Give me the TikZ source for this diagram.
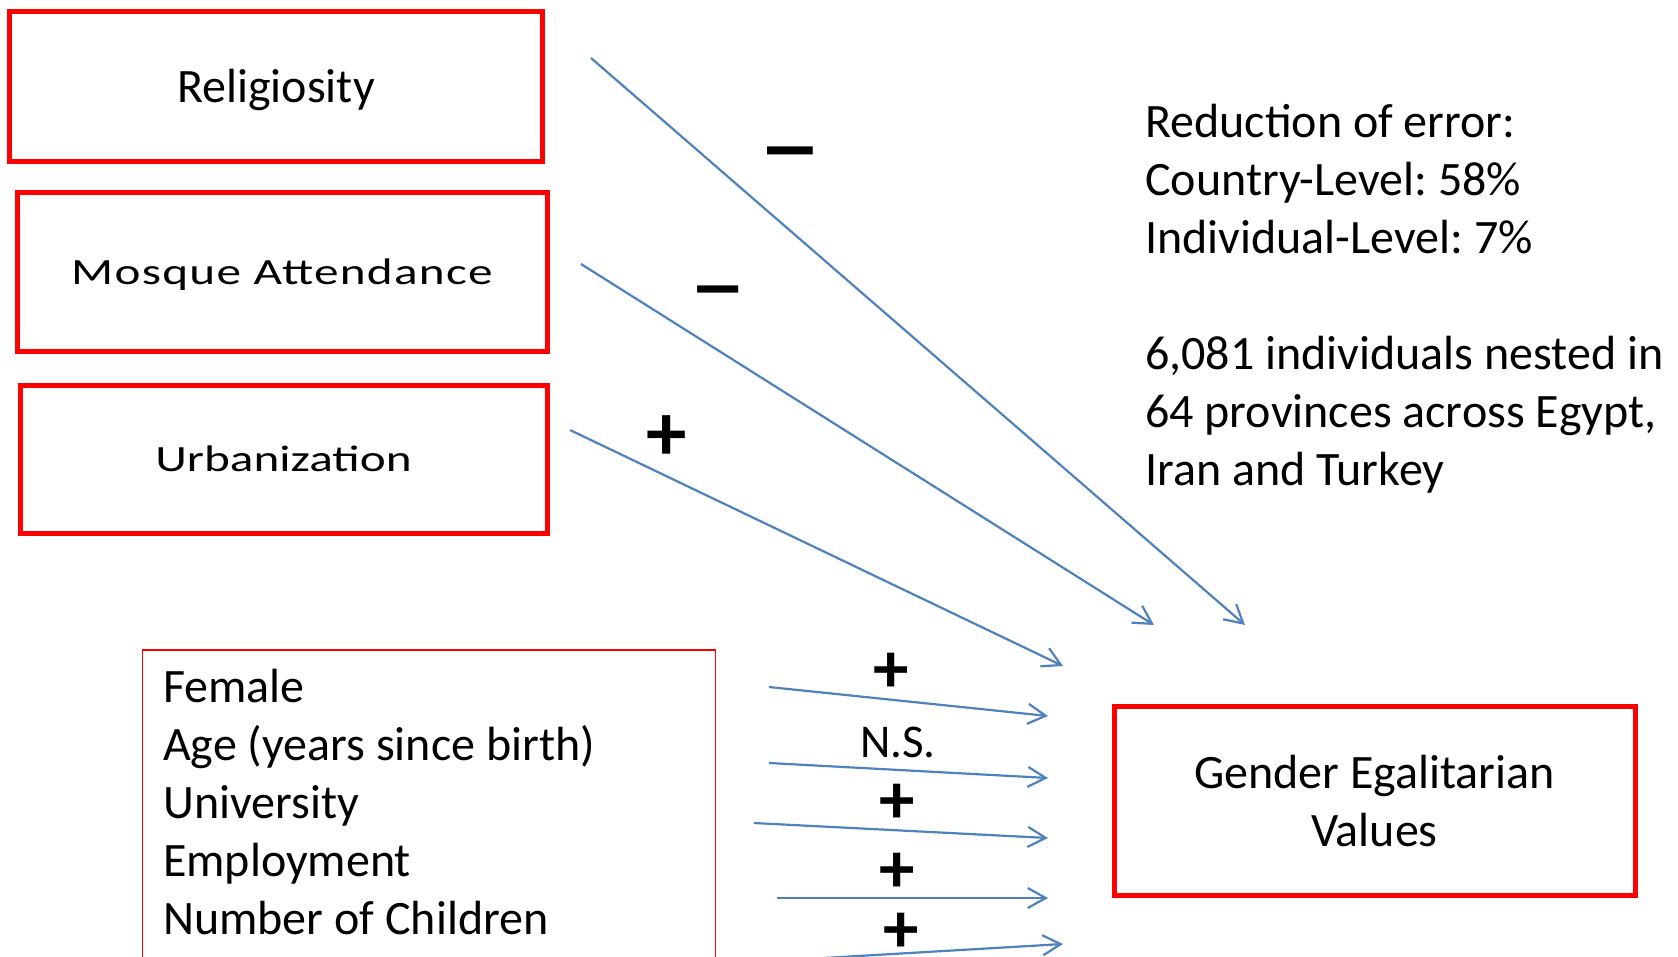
\documentclass[tikz,border=0pt]{standalone}
\usepackage{fontspec}
\setmainfont{Carlito}
\newfontfamily\widefont{Carlito}[FakeStretch=1.33]
\usetikzlibrary{arrows.meta,positioning}
\definecolor{boxRed}{RGB}{255,0,0}
\definecolor{pathBlue}{RGB}{79,129,189}
\frenchspacing

\begin{document}
\begin{tikzpicture}[x=1pt, y=-1pt,
    factor/.style={rectangle, draw=boxRed, line width=5pt, inner sep=0pt, font=\fontsize{48}{58}\selectfont},
    widelabel/.style={font=\widefont\fontsize{37}{44}\selectfont},
    effect/.style={draw=pathBlue, line width=2.2pt, -{Straight Barb[length=18pt, width=20pt]}},
    sign/.style={inner sep=0pt, font=\fontsize{#1}{#1}\selectfont\bfseries},
    sign/.default=71,
    dash/.style={inner sep=0pt, font=\fontsize{#1}{#1}\selectfont},
    plaintext/.style={anchor=base west, align=left, inner sep=0pt, font=\fontsize{48}{58}\selectfont}]
    \useasboundingbox (0,0) rectangle (1678,956);
    \clip (0,0) rectangle (1678,956);

    % Country-level factors
    \node[factor, text depth=0pt, minimum width=533pt, minimum height=150pt] (relig) at (276,86) {Religiosity};
    \node[factor, widelabel, text depth=0pt, minimum width=530pt, minimum height=159pt] (mosque) at (282,271.5) {\addfontfeature{LetterSpace=3.5}Mosque Attendance};
    \node[factor, widelabel, text depth=0pt, minimum width=527pt, minimum height=148pt] (urban) at (283.5,459) {Urbanization};

    % Individual-level controls
    \node[rectangle, draw=boxRed, line width=1.5pt, minimum width=573pt, minimum height=360pt, inner sep=0pt] (indiv) at (429,830) {};
    \node[plaintext] (controls) at (163,934) {Female\\Age (years since birth)\\University\\Employment\\Number of Children};

    % Outcome
    \node[factor, align=center, minimum width=521pt, minimum height=189pt] (gender) at (1374.5,800.5) {Gender Egalitarian\\Values};

    % Model notes
    \node[plaintext] (notes) at (1145,485) {Reduction of error:\\Country-Level: 58\%\\Individual-Level: 7\%\\[58pt]6,081 individuals nested in\\64 provinces across Egypt,\\Iran and Turkey};

    % Arrow ends
    \coordinate (relig-out) at (591,58);
    \coordinate (relig-in) at (1245,625);
    \coordinate (mosque-out) at (581,264);
    \coordinate (mosque-in) at (1154,625);
    \coordinate (urban-out) at (570,430);
    \coordinate (urban-in) at (1063,666);
    \coordinate (female-out) at (769,687);
    \coordinate (female-in) at (1048,716);
    \coordinate (age-out) at (769,763);
    \coordinate (age-in) at (1048,778);
    \coordinate (univ-out) at (754,823);
    \coordinate (univ-in) at (1048,838);
    \coordinate (employ-out) at (777,898);
    \coordinate (employ-in) at (1048,898);
    \coordinate (child-out) at (824,958);
    \coordinate (child-in) at (1063,944);

    \draw[effect] (relig-out) -- (relig-in);
    \draw[effect] (mosque-out) -- (mosque-in);
    \draw[effect] (urban-out) -- (urban-in);
    \draw[effect] (female-out) -- (female-in);
    \draw[effect] (age-out) -- (age-in);
    \draw[effect] (univ-out) -- (univ-in);
    \draw[effect] (employ-out) -- (employ-in);
    \draw[effect] (child-out) -- (child-in);

    % Signs of the effects
    \node[dash=128] (relig-sign) at (790,167) {–};
    \node[dash=115] (mosque-sign) at (718,304) {–};
    \node[sign=81] (urban-sign) at (667,438) {+};
    \node[sign] (female-sign) at (891,673) {+};
    \node[inner sep=0pt, font=\fontsize{47}{47}\selectfont] (age-sign) at (898,742) {N.S.};
    \node[sign] (univ-sign) at (897,804) {+};
    \node[sign] (employ-sign) at (897,873) {+};
    \node[sign] (child-sign) at (901,933) {+};
\end{tikzpicture}
\end{document}
